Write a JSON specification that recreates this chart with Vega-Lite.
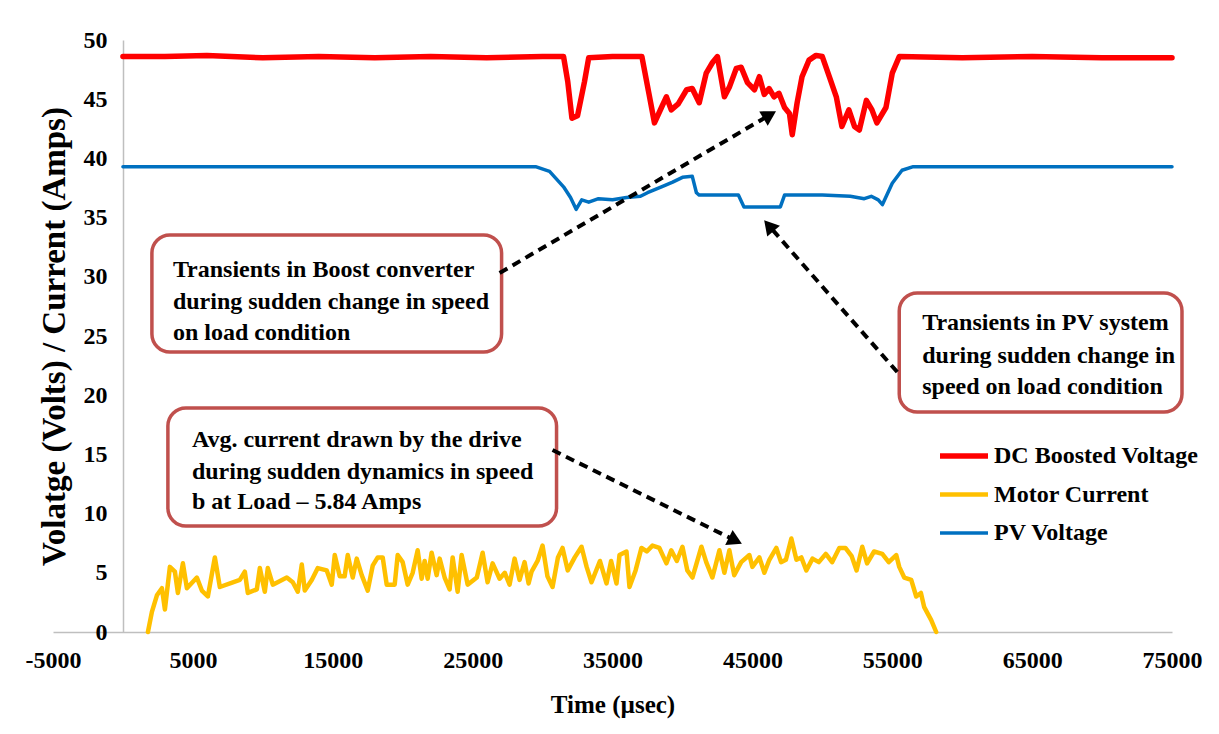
{
  "$schema": "https://vega.github.io/schema/vega-lite/v6.json",
  "width": 1119,
  "height": 592,
  "autosize": {"type": "none"},
  "padding": {"left": 53, "top": 40, "right": 47, "bottom": 102},
  "background": "white",
  "config": {"view": {"stroke": null}, "font": "Liberation Serif, Times New Roman, serif"},
  "datasets": {
    "signals": [
      {"s":"DC Boosted Voltage","t":0,"v":48.6},{"s":"DC Boosted Voltage","t":3000,"v":48.6},{"s":"DC Boosted Voltage","t":6000,"v":48.7},{"s":"DC Boosted Voltage","t":10000,"v":48.5},{"s":"DC Boosted Voltage","t":14000,"v":48.6},{"s":"DC Boosted Voltage","t":18000,"v":48.5},{"s":"DC Boosted Voltage","t":22000,"v":48.6},{"s":"DC Boosted Voltage","t":26000,"v":48.5},{"s":"DC Boosted Voltage","t":30000,"v":48.6},{"s":"DC Boosted Voltage","t":31500,"v":48.6},{"s":"DC Boosted Voltage","t":31800,"v":46.5},{"s":"DC Boosted Voltage","t":32100,"v":43.4},{"s":"DC Boosted Voltage","t":32500,"v":43.6},{"s":"DC Boosted Voltage","t":33000,"v":46.5},{"s":"DC Boosted Voltage","t":33300,"v":48.5},{"s":"DC Boosted Voltage","t":35000,"v":48.6},{"s":"DC Boosted Voltage","t":37100,"v":48.6},{"s":"DC Boosted Voltage","t":37600,"v":45.5},{"s":"DC Boosted Voltage","t":38000,"v":43.0},{"s":"DC Boosted Voltage","t":38500,"v":44.3},{"s":"DC Boosted Voltage","t":38850,"v":45.2},{"s":"DC Boosted Voltage","t":39200,"v":44.1},{"s":"DC Boosted Voltage","t":39700,"v":44.6},{"s":"DC Boosted Voltage","t":40300,"v":45.8},{"s":"DC Boosted Voltage","t":40700,"v":45.9},{"s":"DC Boosted Voltage","t":41200,"v":44.7},{"s":"DC Boosted Voltage","t":41700,"v":47.2},{"s":"DC Boosted Voltage","t":42150,"v":48.1},{"s":"DC Boosted Voltage","t":42500,"v":48.6},{"s":"DC Boosted Voltage","t":43000,"v":45.2},{"s":"DC Boosted Voltage","t":43350,"v":46.0},{"s":"DC Boosted Voltage","t":43850,"v":47.6},{"s":"DC Boosted Voltage","t":44200,"v":47.7},{"s":"DC Boosted Voltage","t":44650,"v":46.4},{"s":"DC Boosted Voltage","t":45150,"v":45.8},{"s":"DC Boosted Voltage","t":45500,"v":46.9},{"s":"DC Boosted Voltage","t":45850,"v":45.4},{"s":"DC Boosted Voltage","t":46200,"v":45.9},{"s":"DC Boosted Voltage","t":46550,"v":45.2},{"s":"DC Boosted Voltage","t":46900,"v":45.5},{"s":"DC Boosted Voltage","t":47300,"v":44.3},{"s":"DC Boosted Voltage","t":47650,"v":43.8},{"s":"DC Boosted Voltage","t":47850,"v":42.0},{"s":"DC Boosted Voltage","t":48200,"v":44.7},{"s":"DC Boosted Voltage","t":48550,"v":46.9},{"s":"DC Boosted Voltage","t":49050,"v":48.3},{"s":"DC Boosted Voltage","t":49550,"v":48.7},{"s":"DC Boosted Voltage","t":50000,"v":48.6},{"s":"DC Boosted Voltage","t":50500,"v":46.9},{"s":"DC Boosted Voltage","t":51000,"v":45.2},{"s":"DC Boosted Voltage","t":51400,"v":42.7},{"s":"DC Boosted Voltage","t":51900,"v":44.1},{"s":"DC Boosted Voltage","t":52300,"v":42.7},{"s":"DC Boosted Voltage","t":52650,"v":42.4},{"s":"DC Boosted Voltage","t":53150,"v":44.9},{"s":"DC Boosted Voltage","t":53550,"v":44.1},{"s":"DC Boosted Voltage","t":53900,"v":43.0},{"s":"DC Boosted Voltage","t":54550,"v":44.3},{"s":"DC Boosted Voltage","t":55000,"v":47.2},{"s":"DC Boosted Voltage","t":55500,"v":48.6},{"s":"DC Boosted Voltage","t":60000,"v":48.5},{"s":"DC Boosted Voltage","t":65000,"v":48.6},{"s":"DC Boosted Voltage","t":70000,"v":48.5},{"s":"DC Boosted Voltage","t":75000,"v":48.5},
      {"s":"Motor Current","t":1786,"v":0},{"s":"Motor Current","t":2071,"v":1.7},{"s":"Motor Current","t":2429,"v":3.1},{"s":"Motor Current","t":2786,"v":3.7},{"s":"Motor Current","t":3000,"v":1.9},{"s":"Motor Current","t":3357,"v":5.5},{"s":"Motor Current","t":3714,"v":5.1},{"s":"Motor Current","t":3929,"v":3.3},{"s":"Motor Current","t":4286,"v":5.8},{"s":"Motor Current","t":4571,"v":3.7},{"s":"Motor Current","t":5286,"v":4.6},{"s":"Motor Current","t":5643,"v":3.5},{"s":"Motor Current","t":6071,"v":3.0},{"s":"Motor Current","t":6571,"v":6.3},{"s":"Motor Current","t":6929,"v":3.8},{"s":"Motor Current","t":7857,"v":4.2},{"s":"Motor Current","t":8357,"v":4.4},{"s":"Motor Current","t":8714,"v":5.1},{"s":"Motor Current","t":8929,"v":3.3},{"s":"Motor Current","t":9571,"v":3.6},{"s":"Motor Current","t":9786,"v":5.4},{"s":"Motor Current","t":10143,"v":3.4},{"s":"Motor Current","t":10357,"v":5.4},{"s":"Motor Current","t":10714,"v":4.0},{"s":"Motor Current","t":11714,"v":4.6},{"s":"Motor Current","t":12143,"v":4.2},{"s":"Motor Current","t":12500,"v":3.4},{"s":"Motor Current","t":12786,"v":5.7},{"s":"Motor Current","t":13000,"v":3.5},{"s":"Motor Current","t":13500,"v":4.4},{"s":"Motor Current","t":13929,"v":5.4},{"s":"Motor Current","t":14571,"v":5.2},{"s":"Motor Current","t":14929,"v":4.0},{"s":"Motor Current","t":15143,"v":6.5},{"s":"Motor Current","t":15500,"v":4.7},{"s":"Motor Current","t":15850,"v":4.7},{"s":"Motor Current","t":16071,"v":6.5},{"s":"Motor Current","t":16429,"v":4.6},{"s":"Motor Current","t":16714,"v":6.2},{"s":"Motor Current","t":17071,"v":4.8},{"s":"Motor Current","t":17500,"v":3.5},{"s":"Motor Current","t":17857,"v":5.6},{"s":"Motor Current","t":18214,"v":6.3},{"s":"Motor Current","t":18571,"v":6.3},{"s":"Motor Current","t":18857,"v":4.0},{"s":"Motor Current","t":19429,"v":4.0},{"s":"Motor Current","t":19643,"v":6.5},{"s":"Motor Current","t":20000,"v":5.9},{"s":"Motor Current","t":20357,"v":4.0},{"s":"Motor Current","t":20714,"v":5.0},{"s":"Motor Current","t":21071,"v":6.9},{"s":"Motor Current","t":21357,"v":4.5},{"s":"Motor Current","t":21571,"v":6.0},{"s":"Motor Current","t":21786,"v":4.5},{"s":"Motor Current","t":22071,"v":6.7},{"s":"Motor Current","t":22429,"v":4.8},{"s":"Motor Current","t":22643,"v":6.2},{"s":"Motor Current","t":23000,"v":4.6},{"s":"Motor Current","t":23357,"v":3.6},{"s":"Motor Current","t":23571,"v":6.3},{"s":"Motor Current","t":23929,"v":3.4},{"s":"Motor Current","t":24214,"v":6.5},{"s":"Motor Current","t":24643,"v":4.0},{"s":"Motor Current","t":25300,"v":4.6},{"s":"Motor Current","t":25714,"v":6.7},{"s":"Motor Current","t":26071,"v":4.2},{"s":"Motor Current","t":26429,"v":5.8},{"s":"Motor Current","t":26929,"v":4.5},{"s":"Motor Current","t":27300,"v":5.0},{"s":"Motor Current","t":27643,"v":4.0},{"s":"Motor Current","t":28000,"v":6.2},{"s":"Motor Current","t":28357,"v":4.4},{"s":"Motor Current","t":28714,"v":5.9},{"s":"Motor Current","t":29000,"v":4.1},{"s":"Motor Current","t":29214,"v":5.1},{"s":"Motor Current","t":29643,"v":6.0},{"s":"Motor Current","t":30000,"v":7.3},{"s":"Motor Current","t":30350,"v":4.7},{"s":"Motor Current","t":30714,"v":3.8},{"s":"Motor Current","t":31100,"v":6.3},{"s":"Motor Current","t":31429,"v":7.1},{"s":"Motor Current","t":31800,"v":5.2},{"s":"Motor Current","t":32300,"v":6.3},{"s":"Motor Current","t":32786,"v":7.2},{"s":"Motor Current","t":33150,"v":5.5},{"s":"Motor Current","t":33500,"v":4.2},{"s":"Motor Current","t":34100,"v":6.0},{"s":"Motor Current","t":34571,"v":4.1},{"s":"Motor Current","t":34900,"v":6.0},{"s":"Motor Current","t":35286,"v":4.1},{"s":"Motor Current","t":35500,"v":6.5},{"s":"Motor Current","t":36000,"v":6.8},{"s":"Motor Current","t":36214,"v":3.8},{"s":"Motor Current","t":36650,"v":5.2},{"s":"Motor Current","t":37071,"v":7.1},{"s":"Motor Current","t":37450,"v":6.8},{"s":"Motor Current","t":37857,"v":7.3},{"s":"Motor Current","t":38350,"v":7.1},{"s":"Motor Current","t":38857,"v":5.8},{"s":"Motor Current","t":39200,"v":6.9},{"s":"Motor Current","t":39600,"v":6.0},{"s":"Motor Current","t":40000,"v":7.2},{"s":"Motor Current","t":40350,"v":5.2},{"s":"Motor Current","t":40714,"v":4.6},{"s":"Motor Current","t":41357,"v":7.2},{"s":"Motor Current","t":41700,"v":5.9},{"s":"Motor Current","t":42143,"v":4.6},{"s":"Motor Current","t":42643,"v":6.9},{"s":"Motor Current","t":43000,"v":5.0},{"s":"Motor Current","t":43357,"v":6.9},{"s":"Motor Current","t":43700,"v":4.8},{"s":"Motor Current","t":44200,"v":5.9},{"s":"Motor Current","t":44786,"v":6.5},{"s":"Motor Current","t":45000,"v":5.5},{"s":"Motor Current","t":45500,"v":6.3},{"s":"Motor Current","t":45857,"v":5.0},{"s":"Motor Current","t":46214,"v":6.1},{"s":"Motor Current","t":46714,"v":7.1},{"s":"Motor Current","t":47050,"v":5.9},{"s":"Motor Current","t":47400,"v":6.1},{"s":"Motor Current","t":47786,"v":7.9},{"s":"Motor Current","t":48150,"v":6.1},{"s":"Motor Current","t":48500,"v":6.3},{"s":"Motor Current","t":48857,"v":5.2},{"s":"Motor Current","t":49300,"v":6.2},{"s":"Motor Current","t":49750,"v":5.9},{"s":"Motor Current","t":50250,"v":6.6},{"s":"Motor Current","t":50700,"v":5.9},{"s":"Motor Current","t":51214,"v":7.1},{"s":"Motor Current","t":51650,"v":7.1},{"s":"Motor Current","t":52100,"v":6.4},{"s":"Motor Current","t":52450,"v":5.2},{"s":"Motor Current","t":52857,"v":7.2},{"s":"Motor Current","t":53200,"v":5.8},{"s":"Motor Current","t":53700,"v":6.8},{"s":"Motor Current","t":54286,"v":6.6},{"s":"Motor Current","t":54750,"v":5.9},{"s":"Motor Current","t":55286,"v":6.5},{"s":"Motor Current","t":55500,"v":5.5},{"s":"Motor Current","t":55857,"v":4.6},{"s":"Motor Current","t":56357,"v":4.4},{"s":"Motor Current","t":56714,"v":3.0},{"s":"Motor Current","t":57050,"v":3.3},{"s":"Motor Current","t":57286,"v":2.1},{"s":"Motor Current","t":57786,"v":1.0},{"s":"Motor Current","t":58143,"v":0},
      {"s":"PV Voltage","t":0,"v":39.3},{"s":"PV Voltage","t":10000,"v":39.3},{"s":"PV Voltage","t":20000,"v":39.3},{"s":"PV Voltage","t":29500,"v":39.3},{"s":"PV Voltage","t":30500,"v":38.9},{"s":"PV Voltage","t":31500,"v":37.6},{"s":"PV Voltage","t":32000,"v":36.7},{"s":"PV Voltage","t":32400,"v":35.7},{"s":"PV Voltage","t":32800,"v":36.5},{"s":"PV Voltage","t":33300,"v":36.3},{"s":"PV Voltage","t":34000,"v":36.6},{"s":"PV Voltage","t":35000,"v":36.5},{"s":"PV Voltage","t":36000,"v":36.7},{"s":"PV Voltage","t":37000,"v":36.8},{"s":"PV Voltage","t":37500,"v":37.1},{"s":"PV Voltage","t":38500,"v":37.6},{"s":"PV Voltage","t":39300,"v":38.0},{"s":"PV Voltage","t":40000,"v":38.4},{"s":"PV Voltage","t":40700,"v":38.5},{"s":"PV Voltage","t":41000,"v":37.1},{"s":"PV Voltage","t":41200,"v":36.9},{"s":"PV Voltage","t":44000,"v":36.9},{"s":"PV Voltage","t":44400,"v":35.9},{"s":"PV Voltage","t":47000,"v":35.9},{"s":"PV Voltage","t":47300,"v":36.9},{"s":"PV Voltage","t":50000,"v":36.9},{"s":"PV Voltage","t":52000,"v":36.8},{"s":"PV Voltage","t":53000,"v":36.6},{"s":"PV Voltage","t":53500,"v":36.8},{"s":"PV Voltage","t":54000,"v":36.5},{"s":"PV Voltage","t":54300,"v":36.1},{"s":"PV Voltage","t":55000,"v":37.9},{"s":"PV Voltage","t":55700,"v":39.0},{"s":"PV Voltage","t":56500,"v":39.3},{"s":"PV Voltage","t":75000,"v":39.3}
    ],
    "boxes": [
      {"t":2071,"t2":27071,"v":33.53,"v2":23.65},
      {"t":55500,"t2":75714,"v":28.63,"v2":18.58},
      {"t":3214,"t2":31000,"v":18.92,"v2":8.95}
    ],
    "notes": [
      {"t":3571,"v":30.57,"label":"Transients in Boost converter"},
      {"t":3571,"v":27.87,"label":"during sudden change in speed"},
      {"t":3571,"v":25.25,"label":"on load condition"},
      {"t":57143,"v":26.10,"label":"Transients in PV system"},
      {"t":57143,"v":23.31,"label":"during sudden change in"},
      {"t":57143,"v":20.69,"label":"speed on load condition"},
      {"t":4929,"v":16.22,"label":"Avg. current drawn by the drive"},
      {"t":4929,"v":13.51,"label":"during sudden dynamics in speed"},
      {"t":4929,"v":10.98,"label":"b at Load – 5.84 Amps"}
    ],
    "arrows": [
      {"t":26929,"v":30.32,"t2":46243,"v2":43.67},
      {"t":55357,"v":21.96,"t2":46179,"v2":34.32},
      {"t":30714,"v":15.37,"t2":43786,"v2":7.72}
    ]
  },
  "encoding": {
    "x": {"field": "t", "type": "quantitative",
      "scale": {"domain": [-5000, 75000], "nice": false, "zero": false},
      "axis": {"title": "Time (µsec)", "values": [-5000, 5000, 15000, 25000, 35000, 45000, 55000, 65000, 75000],
        "labelExpr": "'' + datum.value", "ticks": false, "grid": false, "domainColor": "#bfbfbf", "domainWidth": 1.5,
        "labelFont": "Liberation Serif, Times New Roman, serif", "labelFontSize": 24, "labelFontWeight": "bold", "labelColor": "black",
        "labelPadding": 16, "labelFlush": false, "labelOverlap": false,
        "titleFont": "Liberation Serif, Times New Roman, serif", "titleFontSize": 25, "titleFontWeight": "bold", "titleColor": "black", "titlePadding": 20}},
    "y": {"field": "v", "type": "quantitative",
      "scale": {"domain": [0, 50], "nice": false},
      "axis": {"title": "Volatge (Volts) / Current (Amps)", "values": [0, 5, 10, 15, 20, 25, 30, 35, 40, 45, 50],
        "offset": -70, "ticks": false, "grid": false, "domainColor": "#bfbfbf", "domainWidth": 1.5,
        "labelFont": "Liberation Serif, Times New Roman, serif", "labelFontSize": 24, "labelFontWeight": "bold", "labelColor": "black",
        "labelPadding": 16, "labelFlush": false, "labelOverlap": false,
        "titleFont": "Liberation Serif, Times New Roman, serif", "titleFontSize": 33, "titleFontWeight": "bold", "titleColor": "black", "titlePadding": 12}}
  },
  "layer": [
    {
      "data": {"name": "signals"},
      "mark": {"type": "line", "strokeCap": "round", "strokeJoin": "round"},
      "encoding": {
        "color": {"field": "s", "type": "nominal",
          "scale": {"domain": ["DC Boosted Voltage", "Motor Current", "PV Voltage"], "range": ["#ff0000", "#ffc000", "#0070c0"]},
          "legend": {"orient": "none", "legendX": 884, "legendY": 389, "title": null, "padding": 0,
            "labelFont": "Liberation Serif, Times New Roman, serif", "labelFontSize": 24, "labelFontWeight": "bold", "labelColor": "black", "labelLimit": 400,
            "symbolType": "stroke", "symbolSize": 2304, "rowPadding": -6, "labelOffset": 3}},
        "strokeWidth": {"field": "s", "type": "nominal",
          "scale": {"domain": ["DC Boosted Voltage", "Motor Current", "PV Voltage"], "range": [5.5, 3.5, 5.5]},
          "legend": {"orient": "none", "legendX": 884, "legendY": 389, "title": null, "padding": 0,
            "labelFont": "Liberation Serif, Times New Roman, serif", "labelFontSize": 24, "labelFontWeight": "bold", "labelColor": "black", "labelLimit": 400,
            "symbolType": "stroke", "symbolSize": 2304, "rowPadding": -6, "labelOffset": 3}},
        "detail": {"field": "s"}
      }
    },
    {
      "data": {"name": "boxes"},
      "mark": {"type": "rect", "cornerRadius": 18, "fill": "white", "stroke": "#c0504d", "strokeWidth": 3.5},
      "encoding": {"x2": {"field": "t2"}, "y2": {"field": "v2"}}
    },
    {
      "data": {"name": "notes"},
      "mark": {"type": "text", "align": "left", "baseline": "middle", "font": "Liberation Serif, Times New Roman, serif", "fontSize": 24, "fontWeight": "bold", "color": "black"},
      "encoding": {"text": {"field": "label"}}
    },
    {
      "data": {"name": "arrows"},
      "mark": {"type": "rule", "strokeDash": [9, 6], "strokeWidth": 4, "color": "black"},
      "encoding": {"x2": {"field": "t2"}, "y2": {"field": "v2"}}
    },
    {
      "data": {"values": [{"t": 46243, "v": 43.67}]},
      "mark": {"type": "point", "shape": "triangle-up", "filled": true, "size": 280, "color": "black", "opacity": 1, "angle": 59.7}
    },
    {
      "data": {"values": [{"t": 46179, "v": 34.32}]},
      "mark": {"type": "point", "shape": "triangle-up", "filled": true, "size": 280, "color": "black", "opacity": 1, "angle": -40.6}
    },
    {
      "data": {"values": [{"t": 43786, "v": 7.72}]},
      "mark": {"type": "point", "shape": "triangle-up", "filled": true, "size": 280, "color": "black", "opacity": 1, "angle": 116.3}
    }
  ]
}
